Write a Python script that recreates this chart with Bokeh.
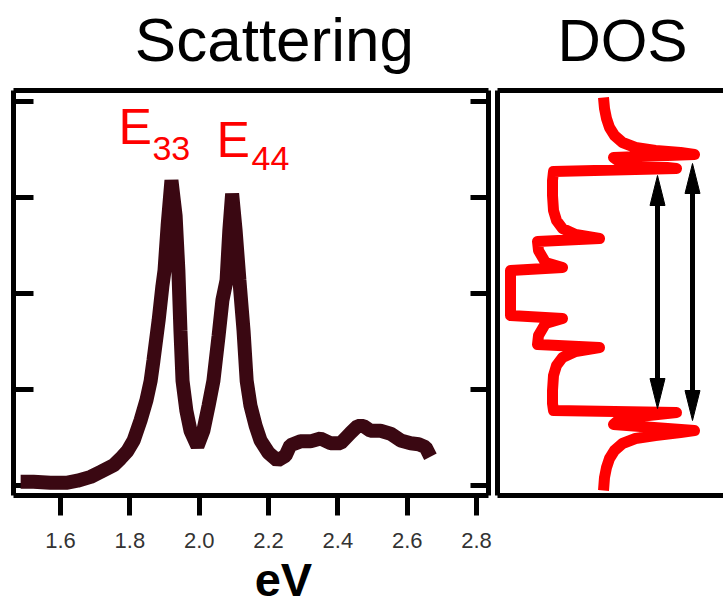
from bokeh.plotting import figure
from bokeh.models import Range1d, LinearAxis, FixedTicker, ColumnDataSource
from bokeh.layouts import row
from bokeh.embed import file_html
from bokeh.resources import INLINE

# ---- Scattering spectrum (energy in eV, intensity in arb. units) ----
energy_ev = [1.485, 1.522, 1.571, 1.620, 1.649, 1.687, 1.715, 1.753, 1.773, 1.793,
             1.811, 1.831, 1.848, 1.860, 1.868, 1.883, 1.894, 1.900, 1.909, 1.920,
             1.932, 1.940, 1.946, 1.952, 1.963, 1.975, 1.995, 2.012, 2.027, 2.041,
             2.056, 2.067, 2.079, 2.087, 2.095, 2.105, 2.116, 2.128, 2.137, 2.148,
             2.163, 2.177, 2.200, 2.226, 2.249, 2.263, 2.292, 2.321, 2.350, 2.379,
             2.408, 2.437, 2.457, 2.474, 2.494, 2.523, 2.552, 2.581, 2.610, 2.633,
             2.653, 2.667]
intensity = [0.04, 0.04, 0.03, 0.03, 0.05, 0.09, 0.14, 0.21, 0.28, 0.36,
             0.47, 0.68, 0.89, 1.09, 1.30, 1.72, 2.08, 2.24, 2.71, 3.18,
             2.81, 2.24, 1.61, 1.09, 0.78, 0.57, 0.41, 0.57, 0.83, 1.09,
             1.56, 1.93, 2.14, 2.66, 3.04, 2.66, 2.14, 1.61, 1.09, 0.83,
             0.62, 0.47, 0.34, 0.26, 0.31, 0.42, 0.46, 0.46, 0.49, 0.44,
             0.44, 0.55, 0.62, 0.62, 0.57, 0.57, 0.54, 0.47, 0.44, 0.43,
             0.40, 0.30]

x_ticks = [1.6, 1.8, 2.0, 2.2, 2.4, 2.6, 2.8]
x_tick_labels = ["1.6", "1.8", "2.0", "2.2", "2.4", "2.6", "2.8"]
y_ticks = [0, 1, 2, 3, 4]

# peak labels: (main letter, subscript)
peak_names = [("E", "33"), ("E", "44")]

# ---- 1D density of states (DOS in arb. units vs energy in arb. units) ----
dos = [9.3, 9.4, 9.6, 9.9, 10.4, 11.2, 12.5, 14.5, 17.0, 18.4,
       10.3, 11.0, 16.6, 4.3, 4.2, 4.2, 4.3, 4.6, 5.2, 6.5,
       8.9, 2.7, 2.8, 3.5, 5.2, 0.0, 0.0, 0.0, 5.2, 3.5,
       2.8, 2.7, 8.9, 6.5, 5.2, 4.6, 4.3, 4.2, 4.2, 4.3,
       16.6, 11.0, 10.3, 18.4, 17.0, 14.5, 12.5, 11.2, 10.4, 9.9,
       9.6, 9.4, 9.3]
dos_energy = [19.5, 18.4, 17.4, 16.5, 15.7, 15.0, 14.5, 14.2, 14.0, 13.8,
              13.5, 13.0, 12.4, 12.1, 11.2, 9.7, 8.2, 7.2, 6.4, 5.8,
              5.4, 5.1, 4.2, 3.0, 2.5, 2.2, 0.0, -2.3, -2.6, -3.1,
              -4.3, -5.2, -5.5, -5.9, -6.5, -7.3, -8.3, -9.8, -11.1, -11.8,
              -12.0, -12.6, -13.2, -13.8, -14.0, -14.3, -14.6, -15.1, -15.8, -16.6,
              -17.5, -18.5, -19.8]

# optical transitions between mirrored van Hove singularities
arrow_x = [14.7, 18.2]
arrow_top = [11.7, 12.9]
arrow_bottom = [-11.6, -12.8]

FONT = "Liberation Sans"
CURVE = "#3a0812"
RED = "#ff0000"

X0, X1 = 1.4644, 2.8345
Y0, Y1 = -0.104, 4.115
EV_PER_PX = (X1 - X0) / 475.0

# where the panel headings and the x-axis name sit along each horizontal axis
SCATTER_TITLE_X = 2.217
EV_LABEL_X = 2.243
DOS_TITLE_X = 11.2


def frame_axis(axis):
    """Plain black frame edge with no visible ticks."""
    axis.axis_line_width = 5
    axis.axis_line_color = "black"
    axis.minor_tick_line_color = None
    axis.major_tick_line_color = None
    axis.major_tick_in = 0
    axis.major_tick_out = 0
    axis.major_label_standoff = 0
    return axis


def heading_axis(pos, text, standoff, size, style="normal"):
    """Axis whose single tick label serves as a panel heading."""
    axis = frame_axis(LinearAxis(ticker=FixedTicker(ticks=[pos]),
                                 major_label_overrides={pos: text}))
    axis.major_label_standoff = standoff
    axis.major_label_text_font = FONT
    axis.major_label_text_font_size = size
    axis.major_label_text_font_style = style
    axis.major_label_text_color = "black"
    return axis


# ---------------- left panel: scattering ----------------
p1 = figure(width=493, height=609,
            x_range=Range1d(X0, X1), y_range=Range1d(Y0, Y1),
            x_axis_location=None, y_axis_location=None,
            min_border_left=13, min_border_right=5,
            min_border_top=90, min_border_bottom=114,
            output_backend="svg", toolbar_location=None)
p1.outline_line_color = None
p1.grid.grid_line_color = None
p1.background_fill_color = "white"
p1.border_fill_color = "white"

bottom = LinearAxis(ticker=FixedTicker(ticks=x_ticks),
                    major_label_overrides=dict(zip(x_ticks, x_tick_labels)))
frame_axis(bottom)
bottom.major_tick_line_color = "black"
bottom.major_tick_line_width = 5
bottom.major_tick_out = 20
bottom.major_label_text_font_size = "22px"
bottom.major_label_text_font = FONT
bottom.major_label_text_color = "#333333"
bottom.major_label_standoff = 17
p1.add_layout(bottom, "below")

ev_axis = heading_axis(EV_LABEL_X, "eV", 2, "47px", "bold")
ev_axis.axis_line_color = None
p1.add_layout(ev_axis, "below")

p1.add_layout(heading_axis(SCATTER_TITLE_X, "Scattering", 17, "62px"), "above")
for side in ("left", "right"):
    p1.add_layout(frame_axis(LinearAxis(ticker=FixedTicker(ticks=[]))), side)

# inward y ticks on both sides of the frame
tick_len = 20 * EV_PER_PX
p1.segment(x0=[X0] * len(y_ticks), y0=y_ticks,
           x1=[X0 + tick_len] * len(y_ticks), y1=y_ticks,
           line_color="black", line_width=5)
p1.segment(x0=[X1] * len(y_ticks), y0=y_ticks,
           x1=[X1 - 0.9 * tick_len] * len(y_ticks), y1=y_ticks,
           line_color="black", line_width=5)

p1.line(x="e", y="i", source=ColumnDataSource(dict(e=energy_ev, i=intensity)),
        line_color=CURVE, line_width=14, line_join="bevel", line_cap="butt")

label_src = ColumnDataSource(dict(
    x=[1.767, 2.050], y=[3.73, 3.60], txt=[n[0] for n in peak_names],
    sx=[1.865, 2.151], sy=[3.515, 3.411], sub=[n[1] for n in peak_names]))
p1.text(x="x", y="y", text="txt", source=label_src, text_color=RED,
        text_font_size="50px", text_baseline="alphabetic",
        text_font={"value": FONT})
p1.text(x="sx", y="sy", text="sub", source=label_src, text_color=RED,
        text_font_size="34px", text_baseline="alphabetic",
        text_font={"value": FONT})

# ---------------- right panel: DOS ----------------
p2 = figure(width=230, height=609,
            x_range=Range1d(-1.3, 21.3), y_range=Range1d(-20.3, 20.2),
            x_axis_location=None, y_axis_location=None,
            min_border_left=4, min_border_right=0,
            min_border_top=90, min_border_bottom=114,
            output_backend="svg", toolbar_location=None)
p2.outline_line_color = None
p2.grid.grid_line_color = None
p2.background_fill_color = "white"
p2.border_fill_color = "white"
p2.add_layout(heading_axis(DOS_TITLE_X, "DOS", 17, "60px"), "above")
for side in ("left", "below"):
    p2.add_layout(frame_axis(LinearAxis(ticker=FixedTicker(ticks=[]))), side)

p2.line(x="d", y="e", source=ColumnDataSource(dict(d=dos, e=dos_energy)),
        line_color=RED, line_width=11, line_join="round", line_cap="butt")

# double-headed arrows: shaft plus two slender heads
head_len, head_half = 3.0, 0.75
p2.segment(x0=arrow_x, y0=[t - head_len for t in arrow_top],
           x1=arrow_x, y1=[b + head_len for b in arrow_bottom],
           line_color="black", line_width=5)
heads_x, heads_y = [], []
for x, t, b in zip(arrow_x, arrow_top, arrow_bottom):
    heads_x += [[x, x - head_half, x + head_half], [x, x - head_half, x + head_half]]
    heads_y += [[t, t - head_len, t - head_len], [b, b + head_len, b + head_len]]
p2.patches(xs=heads_x, ys=heads_y, fill_color="black", line_color="black", line_width=1)

layout = row(p1, p2)
open("out.html", "w").write(file_html(layout, INLINE))
